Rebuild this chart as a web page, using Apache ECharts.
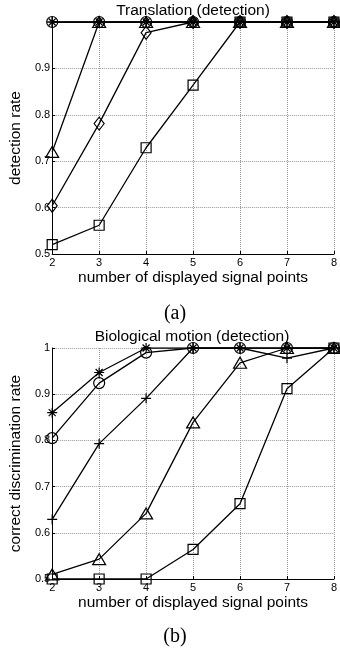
<!DOCTYPE html>
<html><head><meta charset="utf-8">
<script src="https://cdn.jsdelivr.net/npm/echarts@6/dist/echarts.min.js"></script>
<style>html,body{margin:0;padding:0;background:#fff}#c{width:340px;height:648px}</style>
</head><body><div id="c"></div>
<script>
const xValues = [2, 3, 4, 5, 6, 7, 8];
const yTicks = [0.5, 0.6, 0.7, 0.8, 0.9, 1];
// (a) Translation (detection)
const aCircle   = [1, 1, 1, 1, 1, 1, 1];
const aAsterisk = [1, 1, 1, 1, 1, 1, 1];
const aPlus     = [1, 1, 1, 1, 1, 1, 1];
const aTriangle = [0.72, 1, 1, 1, 1, 1, 1];
const aDiamond  = [0.604, 0.781, 0.977, 1, 1, 1, 1];
const aSquare   = [0.52, 0.562, 0.729, 0.864, 1, 1, 1];
// (b) Biological motion (detection)
const bAsterisk = [0.86, 0.947, 1, 1, 1, 1, 1];
const bCircle   = [0.805, 0.924, 0.99, 1, 1, 1, 1];
const bPlus     = [0.629, 0.793, 0.891, 1, 1, 0.978, 1];
const bTriangle = [0.51, 0.543, 0.642, 0.839, 0.968, 1, 1];
const bSquare   = [0.5, 0.5, 0.5, 0.564, 0.663, 0.912, 1];

const SYM = {
  circle: {symbol: 'circle', size: 11},
  asterisk: {symbol: 'path://M0,5L10,5M5,0L5,10M1.5,1.5L8.5,8.5M8.5,1.5L1.5,8.5', size: 10},
  plus: {symbol: 'path://M0,5L10,5M5,0L5,10', size: 10},
  triangle: {symbol: 'triangle', size: [13, 11]},
  diamond: {symbol: 'diamond', size: [10, 13]},
  square: {symbol: 'rect', size: 10}
};
function mk(data, kind, idx) {
  return {
    type: 'line', xAxisIndex: idx, yAxisIndex: idx,
    data: xValues.map((x, i) => [x, data[i]]),
    symbol: SYM[kind].symbol, symbolSize: SYM[kind].size,
    showAllSymbol: true,
    lineStyle: {color: '#000', width: 1.3},
    itemStyle: {color: 'transparent', borderColor: '#000', borderWidth: 1.2},
    emphasis: {disabled: true}, silent: true, z: 3, animation: false
  };
}
const font = 'Liberation Sans, Arial, sans-serif';
function xAx(idx) {
  return {
    type: 'value', gridIndex: idx, min: 2, max: 8, interval: 1,
    name: 'number of displayed signal points', nameLocation: 'middle', nameGap: 16,
    nameTextStyle: {fontFamily: font, fontSize: 15.5, color: '#000'},
    axisLine: {lineStyle: {color: '#000', width: 1}},
    axisTick: {inside: true, length: 3, lineStyle: {color: '#000'}},
    axisLabel: {fontFamily: font, fontSize: 11, color: '#000', margin: 3},
    splitLine: {show: true, lineStyle: {type: 'dotted', color: '#999', width: 1}}
  };
}
function yAx(idx, name, showMax) {
  return {
    type: 'value', gridIndex: idx, min: yTicks[0], max: yTicks[yTicks.length - 1], interval: 0.1,
    name: name, nameLocation: 'middle', nameGap: 23,
    nameTextStyle: {fontFamily: font, fontSize: 15.5, color: '#000'},
    axisLine: {show: true, lineStyle: {color: '#000', width: 1}},
    axisTick: {show: true, inside: true, length: 3, lineStyle: {color: '#000'}},
    axisLabel: {fontFamily: font, fontSize: 11, color: '#000', margin: 2, showMaxLabel: showMax,
      formatter: v => (Math.abs(v - 1) < 1e-9 ? '1' : v.toFixed(1))},
    splitLine: {show: true, lineStyle: {type: 'dotted', color: '#999', width: 1}}
  };
}
const chart = echarts.init(document.getElementById('c'), null, {renderer: 'canvas'});
chart.setOption({
  animation: false,
  backgroundColor: '#fff',
  title: [
    {text: 'Translation (detection)', left: 188, top: -2, textAlign: 'center',
      textStyle: {fontFamily: font, fontSize: 15.5, fontWeight: 'normal', color: '#000'}},
    {text: 'Biological motion (detection)', left: 187, top: 324, textAlign: 'center',
      textStyle: {fontFamily: font, fontSize: 15.5, fontWeight: 'normal', color: '#000'}},
    {text: '(a)', left: 170, top: 299, textAlign: 'center',
      textStyle: {fontFamily: 'Liberation Serif, Times New Roman, serif', fontSize: 20, fontWeight: 'normal', color: '#000'}},
    {text: '(b)', left: 170, top: 622, textAlign: 'center',
      textStyle: {fontFamily: 'Liberation Serif, Times New Roman, serif', fontSize: 20, fontWeight: 'normal', color: '#000'}}
  ],
  grid: [
    {left: 40, top: 22, width: 294, height: 232},
    {left: 40, top: 348, width: 294, height: 231}
  ],
  xAxis: [xAx(0), xAx(1)],
  yAxis: [yAx(0, 'detection rate', false), yAx(1, 'correct discrimination rate', true)],
  series: [
    mk(aSquare, 'square', 0), mk(aDiamond, 'diamond', 0), mk(aTriangle, 'triangle', 0),
    mk(aPlus, 'plus', 0), mk(aCircle, 'circle', 0), mk(aAsterisk, 'asterisk', 0),
    mk(bSquare, 'square', 1), mk(bTriangle, 'triangle', 1), mk(bPlus, 'plus', 1),
    mk(bCircle, 'circle', 1), mk(bAsterisk, 'asterisk', 1)
  ]
});
</script></body></html>
